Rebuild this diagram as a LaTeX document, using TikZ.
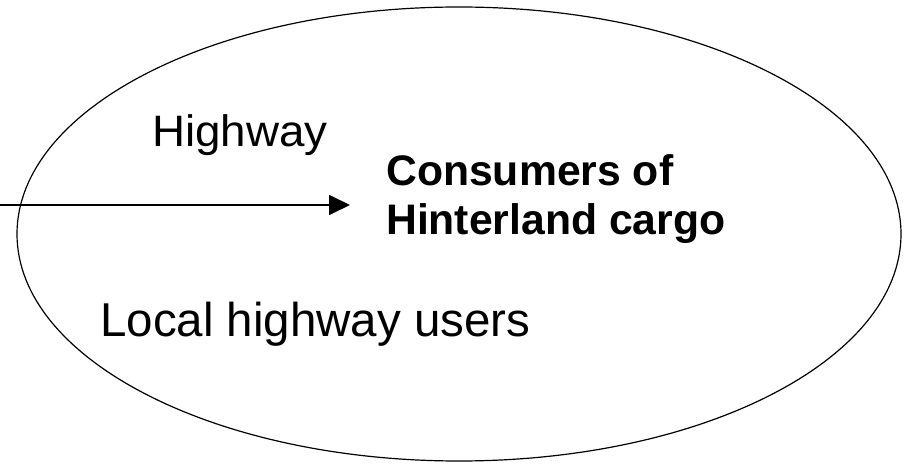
\documentclass[tikz,border=0pt]{standalone}
\usepackage{fontspec}
\setmainfont{Liberation Sans}
\usetikzlibrary{shapes.geometric,arrows.meta}

\tikzset{
  region/.style={draw, ellipse, line width=1.2pt, inner sep=0pt,
                 minimum width=884pt, minimum height=454pt},
  plainlabel/.style={anchor=base west, inner sep=0pt, font=\fontsize{47.5}{57}\selectfont},
  widelabel/.style={anchor=base west, inner sep=0pt, xscale=1.04, font=\fontsize{44}{53}\selectfont},
  boldlabel/.style={anchor=base west, inner sep=0pt, font=\fontsize{42.7}{51}\selectfont\bfseries},
  flow/.style={line width=1.8pt, -{Triangle[length=21pt,width=20pt]}}
}

\begin{document}
\begin{tikzpicture}[x=1pt,y=1pt]
  \useasboundingbox (0,0) rectangle (909,463);

  % the region the highway serves
  \node[region] (area) at (459,229) {};

  % labels inside the region
  \node[widelabel] (hwy) at (152,316) {Highway};
  \node[boldlabel] (cons1) at (386,277) {Consumers of};
  \node[boldlabel] (cons2) at (386,228) {Hinterland cargo};
  \node[plainlabel] (local) at (100,126) {Local highway users};

  % incoming cargo flow
  \coordinate (src) at (0,258);
  \coordinate (dst) at (350,258);
  \draw[flow] (src) -- (dst);
\end{tikzpicture}
\end{document}
